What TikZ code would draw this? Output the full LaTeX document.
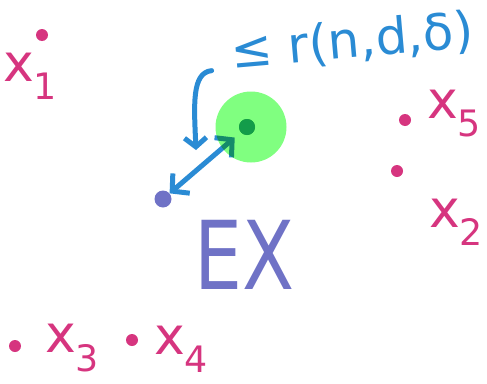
\documentclass[tikz,border=0pt]{standalone}
\usepackage{fontspec}
\setmainfont{DejaVu Sans}
\usetikzlibrary{arrows.meta,positioning}
\definecolor{rose}{HTML}{D6357F}
\definecolor{sky}{HTML}{2A8BD4}
\definecolor{lilac}{HTML}{6F72C6}
\definecolor{lime}{HTML}{80FF80}
\definecolor{leaf}{HTML}{139C4A}

\begin{document}
\begin{tikzpicture}[x=1pt,y=-1pt,
    dot/.style={circle,fill=#1,inner sep=0pt,minimum size=12pt},
    lab/.style={rose,inner sep=0pt,font=\fontsize{52}{52}\selectfont},
    barb/.style={sky,line width=5pt,line cap=round,line join=round}]
  \useasboundingbox (0,0) rectangle (487,383);
  % sample points
  \foreach \n/\px/\py/\lx/\ly in {1/42/35/30/76,5/405/120/454/114,2/397/171/456/222,3/15/346/72/348,4/132/340/181/349}{
    \node[dot=rose] (x\n) at (\px,\py) {};
    \node[lab] (l\n) at (\lx,\ly) {x\kern-1pt\textsubscript{\n}};
  }
  \node[dot=lilac,minimum size=17pt] (ex) at (163,199) {};
  \node[lilac,font=\fontsize{95}{95}\selectfont,xscale=.8] (exlab) at (245,255) {EX};
  \node[dot=leaf,minimum size=16pt] (mu) at (247,127) {};
  \draw[barb,{Straight Barb[length=12pt,width=26pt]}-{Straight Barb[length=12pt,width=26pt]},
    shorten <=8pt] (mu) -- (ex);
  \begin{scope}[blend mode=multiply]
    \node[circle,fill=lime,minimum size=71pt,inner sep=0pt] (ball) at (251,127) {};
  \end{scope}
  \node[dot=leaf,minimum size=16pt] at (mu) {};
  \node[sky,rotate=5,font=\fontsize{50}{50}\selectfont] (bound) at (352,42) {≤ r(n,d,δ)};
  \coordinate (mark) at (196,150);
  \draw[barb,-{Straight Barb[length=9pt,width=22pt]}] ([xshift=-18pt,yshift=8pt]bound.south west)
    .. controls +(-20,2) and +(-2,-45) .. (mark);
\end{tikzpicture}
\end{document}
